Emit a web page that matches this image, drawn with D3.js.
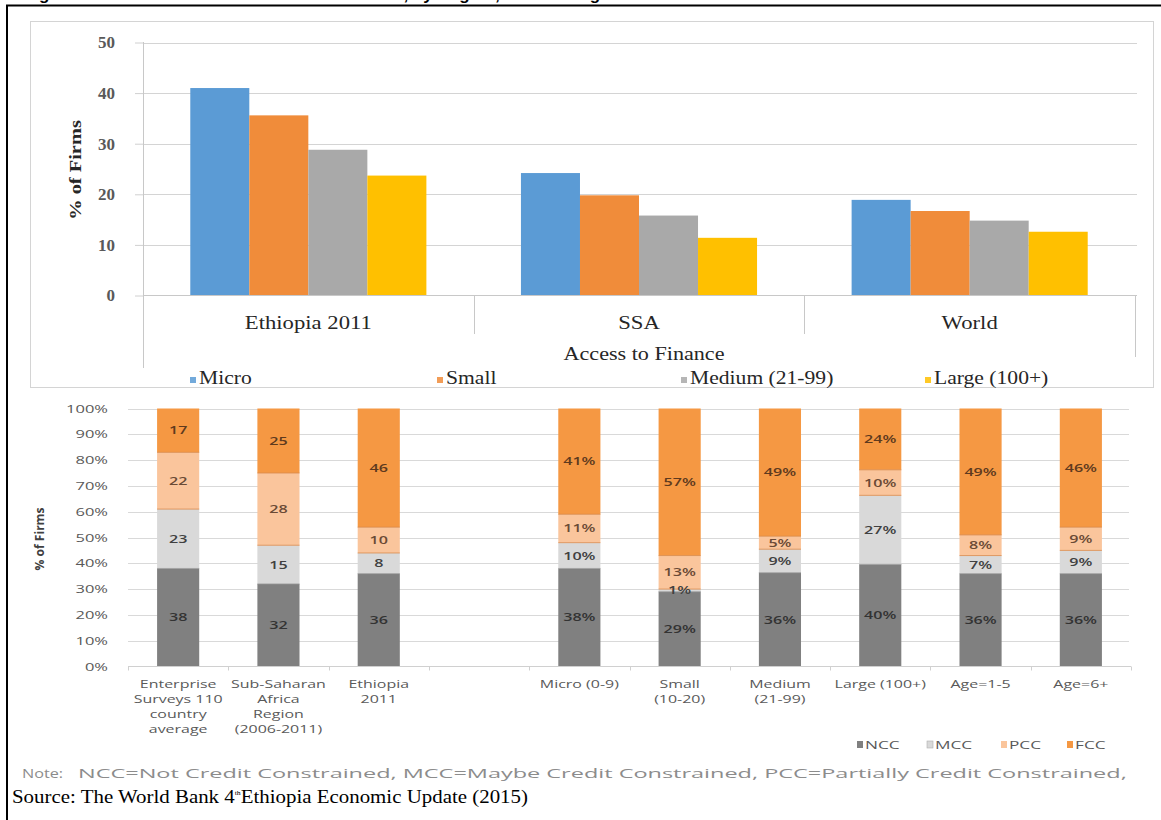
<!DOCTYPE html>
<html>
<head>
<meta charset="utf-8">
<script src="https://cdn.jsdelivr.net/npm/d3@7"></script>
<style>
  html, body { margin: 0; padding: 0; background: #fff; }
  svg { display: block; }
</style>
</head>
<body>
<svg id="fig" width="1161" height="820"></svg>
<script>
// ---- Top panel: access to finance as a major constraint, by firm size ----
const regions = ["Ethiopia 2011", "SSA", "World"];
const sizeSeries = ["Micro", "Small", "Medium (21-99)", "Large (100+)"];
const microVals  = [41.0, 24.2, 18.9];
const smallVals  = [35.6, 19.8, 16.7];
const mediumVals = [28.8, 15.8, 14.8];
const largeVals  = [23.7, 11.4, 12.6];
const topTicks = [0, 10, 20, 30, 40, 50];

// ---- Bottom panel: credit constraint status (100% stacked) ----
const groups = ["ES110", "SSA", "ETH2011", "gap", "Micro", "Small", "Medium", "Large", "Age15", "Age6"];
const groupLabels = [
  ["Enterprise", "Surveys 110", "country", "average"],
  ["Sub-Saharan", "Africa", "Region", "(2006-2011)"],
  ["Ethiopia", "2011"],
  [],
  ["Micro (0-9)"],
  ["Small", "(10-20)"],
  ["Medium", "(21-99)"],
  ["Large (100+)"],
  ["Age=1-5"],
  ["Age=6+"]
];
const showPct = [false, false, false, false, true, true, true, true, true, true];
const statusSeries = ["NCC", "MCC", "PCC", "FCC"];
const nccVals = [38, 32, 36, null, 38, 29, 36, 40, 36, 36];
const mccVals = [23, 15, 8, null, 10, 1, 9, 27, 7, 9];
const pccVals = [22, 28, 10, null, 11, 13, 5, 10, 8, 9];
const fccVals = [17, 25, 46, null, 41, 57, 49, 24, 49, 46];
const botTicks = [0, 0.1, 0.2, 0.3, 0.4, 0.5, 0.6, 0.7, 0.8, 0.9, 1.0];

const noteText = "NCC=Not Credit Constrained, MCC=Maybe Credit Constrained, PCC=Partially Credit Constrained,";

const svg = d3.select("#fig");

// horizontally stretched text helper
function label(g, x, y, str, o) {
  return g.append("text")
    .attr("transform", `translate(${x},${y}) scale(${o.sx || 1},1)`)
    .attr("text-anchor", o.anchor || "start")
    .attr("font-family", o.font)
    .attr("font-size", o.size)
    .attr("font-weight", o.weight || "normal")
    .attr("fill", o.fill || "#000")
    .text(str);
}
const SERIF = "'Liberation Serif', 'Times New Roman', serif";
const SANS = "'Open Sans', 'DejaVu Sans', sans-serif";

// ---- page frame and the heading line running off the top edge ----
label(svg, 24, -0.5, "Figure 4: Firms' Access to Finance Constraints, by Region, Size and Age",
  { font: "'Liberation Sans', Arial, sans-serif", size: 17, weight: "bold", sx: 1.0 });
svg.append("line").attr("x1", 6).attr("x2", 1161).attr("y1", 5.5).attr("y2", 5.5)
  .attr("stroke", "#000").attr("stroke-width", 2);
svg.append("line").attr("x1", 7).attr("x2", 7).attr("y1", 5).attr("y2", 820)
  .attr("stroke", "#000").attr("stroke-width", 2);

// =================== TOP PANEL ===================
const topG = svg.append("g");
topG.append("rect").attr("x", 30.5).attr("y", 21.5).attr("width", 1123).attr("height", 366)
  .attr("fill", "#fff").attr("stroke", "#d4d4d4");

const yTop = d3.scaleLinear().domain([0, 50]).range([295.5, 42.5]);
const xTop = d3.scaleBand().domain(regions).range([143, 1135]);
const bw = xTop.bandwidth();
const xSeries = d3.scaleBand().domain(sizeSeries).range([bw * 0.143, bw * 0.857]);
const sizeColors = d3.scaleOrdinal().domain(sizeSeries)
  .range(["#5b9bd5", "#f08c3a", "#a9a9a9", "#ffc000"]);
const sizeData = [microVals, smallVals, mediumVals, largeVals];

// gridlines + y axis
topG.append("g").selectAll("line").data(topTicks.filter(d => d > 0)).join("line")
  .attr("x1", 143).attr("x2", 1137)
  .attr("y1", d => Math.round(yTop(d)) + 0.5).attr("y2", d => Math.round(yTop(d)) + 0.5)
  .attr("stroke", "#d4d4d4");
const yAxisTop = d3.axisLeft(yTop).tickValues(topTicks).tickSize(8).tickPadding(20);
const gy = topG.append("g").attr("transform", "translate(143,0)").call(yAxisTop);
gy.select(".domain").remove();
gy.selectAll(".tick line").attr("stroke", "#d0d0d0");
gy.selectAll(".tick text").attr("font-family", SERIF).attr("font-size", 17)
  .attr("fill", "#595959").attr("font-weight", "bold");

// y axis title
topG.append("text")
  .attr("transform", "translate(81,170) rotate(-90) scale(1.2,1)")
  .attr("text-anchor", "middle").attr("font-family", SERIF).attr("font-size", 17)
  .attr("font-weight", "bold").attr("fill", "#262626").text("% of Firms");

// bars
sizeSeries.forEach((s, si) => {
  topG.append("g").selectAll("rect").data(regions.map((r, i) => ({ r, v: sizeData[si][i] })))
    .join("rect")
    .attr("x", d => xTop(d.r) + xSeries(s))
    .attr("width", xSeries.bandwidth())
    .attr("y", d => yTop(d.v))
    .attr("height", d => yTop(0) - yTop(d.v))
    .attr("fill", sizeColors(s));
});

// category axis (multi-level style separators)
topG.append("line").attr("x1", 143).attr("x2", 1137).attr("y1", 295.5).attr("y2", 295.5)
  .attr("stroke", "#c8c8c8");
topG.append("line").attr("x1", 143.5).attr("x2", 143.5).attr("y1", 42).attr("y2", 368)
  .attr("stroke", "#c8c8c8");
regions.slice(1).forEach(r => {
  topG.append("line").attr("x1", Math.round(xTop(r)) + 0.5).attr("x2", Math.round(xTop(r)) + 0.5)
    .attr("y1", 295).attr("y2", 334).attr("stroke", "#c8c8c8");
});
topG.append("line").attr("x1", 1135.5).attr("x2", 1135.5).attr("y1", 295).attr("y2", 357)
  .attr("stroke", "#c8c8c8");
regions.forEach(r => {
  label(topG, xTop(r) + bw / 2, 329, r, { font: SERIF, size: 18, sx: 1.26, anchor: "middle", fill: "#262626" });
});
label(topG, 644, 360, "Access to Finance", { font: SERIF, size: 18, sx: 1.23, anchor: "middle", fill: "#262626" });

// legend
const legX = [190, 437, 681, 925];
sizeSeries.forEach((s, i) => {
  topG.append("rect").attr("x", legX[i]).attr("y", 377).attr("width", 6).attr("height", 6)
    .attr("fill", sizeColors(s)).attr("opacity", 0.85);
  label(topG, legX[i] + 9, 384, s, { font: SERIF, size: 18, sx: 1.2, fill: "#262626" });
});

// =================== BOTTOM PANEL ===================
const botG = svg.append("g");
const yBot = d3.scaleLinear().domain([0, 1]).range([666.5, 408.5]);
const xBot = d3.scaleBand().domain(groups).range([128, 1131]).paddingInner(0.58).paddingOuter(0.29);
const statusColors = d3.scaleOrdinal().domain(statusSeries)
  .range(["#808080", "#d9d9d9", "#fac59c", "#f59843"]);
const labelColors = ["#333333", "#404040", "#6a4a35", "#5e3a1e"];

// gridlines
botG.append("g").selectAll("line").data(botTicks.filter(d => d > 0)).join("line")
  .attr("x1", 128).attr("x2", 1129)
  .attr("y1", d => Math.round(yBot(d)) + 0.5).attr("y2", d => Math.round(yBot(d)) + 0.5)
  .attr("stroke", "#d9d9d9");

// y axis labels
const yAxisBot = d3.axisLeft(yBot).tickValues(botTicks).tickSize(0).tickPadding(20)
  .tickFormat(d3.format(".0%"));
const gyb = botG.append("g").attr("transform", "translate(128,0)").call(yAxisBot);
gyb.select(".domain").remove();
gyb.selectAll(".tick text")
  .attr("font-family", SANS).attr("font-size", 11).attr("fill", "#595959")
  .attr("text-anchor", "end").attr("x", 0)
  .attr("transform", "translate(-20,0) scale(1.5,1)");

// y axis title
botG.append("text")
  .attr("transform", "translate(44,539) rotate(-90) scale(1.15,1.25)")
  .attr("text-anchor", "middle").attr("font-family", SANS).attr("font-size", 10.5)
  .attr("font-weight", "bold").attr("fill", "#404040").text("% of Firms");

// stacked bars (100% expanded)
const rows = groups.map((g, i) => ({
  g, i, NCC: nccVals[i], MCC: mccVals[i], PCC: pccVals[i], FCC: fccVals[i]
})).filter(d => d.NCC !== null);
const stack = d3.stack().keys(statusSeries).offset(d3.stackOffsetExpand);
const layers = stack(rows);

layers.forEach((layer, li) => {
  const lg = botG.append("g");
  lg.selectAll("rect").data(layer).join("rect")
    .attr("x", d => xBot(d.data.g))
    .attr("width", xBot.bandwidth())
    .attr("y", d => yBot(d[1]))
    .attr("height", d => yBot(d[0]) - yBot(d[1]))
    .attr("fill", statusColors(layer.key));
});
// thin separators between segments
layers.slice(0, -1).forEach((layer, li) => {
  botG.append("g").selectAll("line").data(layer).join("line")
    .attr("x1", d => xBot(d.data.g)).attr("x2", d => xBot(d.data.g) + xBot.bandwidth())
    .attr("y1", d => yBot(d[1])).attr("y2", d => yBot(d[1]))
    .attr("stroke", li >= 1 ? "#d98a4c" : "#9a9a9a").attr("stroke-width", 1).attr("opacity", 0.8);
});
// segment value labels
layers.forEach((layer, li) => {
  layer.forEach(d => {
    const v = d.data[layer.key];
    const txt = showPct[d.data.i] ? v + "%" : String(v);
    label(botG, xBot(d.data.g) + xBot.bandwidth() / 2, (yBot(d[0]) + yBot(d[1])) / 2 + 4, txt,
      { font: SANS, size: 11.5, sx: 1.4, anchor: "middle", fill: labelColors[li], weight: "600" });
  });
});

// x axis baseline and tick marks between categories
botG.append("line").attr("x1", 128).attr("x2", 1131).attr("y1", 666.5).attr("y2", 666.5)
  .attr("stroke", "#d0d0d0");
botG.append("g").selectAll("line").data(d3.range(groups.length + 1)).join("line")
  .attr("x1", k => Math.round(128 + k * xBot.step()) + 0.5)
  .attr("x2", k => Math.round(128 + k * xBot.step()) + 0.5)
  .attr("y1", 666.5).attr("y2", 670.5).attr("stroke", "#d0d0d0");

// category labels
groups.forEach((g, i) => {
  groupLabels[i].forEach((line, li) => {
    label(botG, xBot(g) + xBot.bandwidth() / 2, 688 + li * 15, line,
      { font: SANS, size: 11, sx: 1.45, anchor: "middle", fill: "#595959" });
  });
});

// bottom legend
const botLegX = [857, 927, 1001, 1067];
statusSeries.forEach((s, i) => {
  botG.append("rect").attr("x", botLegX[i]).attr("y", 741).attr("width", 6).attr("height", 7)
    .attr("fill", statusColors(s)).attr("stroke", i === 1 ? "#b0b0b0" : "none").attr("stroke-width", 0.6);
  label(botG, botLegX[i] + 8, 749, s, { font: SANS, size: 11.5, sx: 1.5, fill: "#595959" });
});

// note and source
label(svg, 22, 778, "Note:", { font: SANS, size: 13.5, sx: 1.2, fill: "#8c8c8c" });
label(svg, 78, 778, noteText, { font: SANS, size: 13.5, sx: 1.74, fill: "#8c8c8c" });
const src = svg.append("text")
  .attr("transform", "translate(12,803) scale(1.1,1)")
  .attr("font-family", SERIF).attr("font-size", 19).attr("fill", "#000");
src.append("tspan").text("Source: The World Bank 4");
src.append("tspan").attr("font-size", 7).attr("dy", -8).text("th");
src.append("tspan").attr("dy", 8).text("Ethiopia Economic Update (2015)");
</script>
</body>
</html>
